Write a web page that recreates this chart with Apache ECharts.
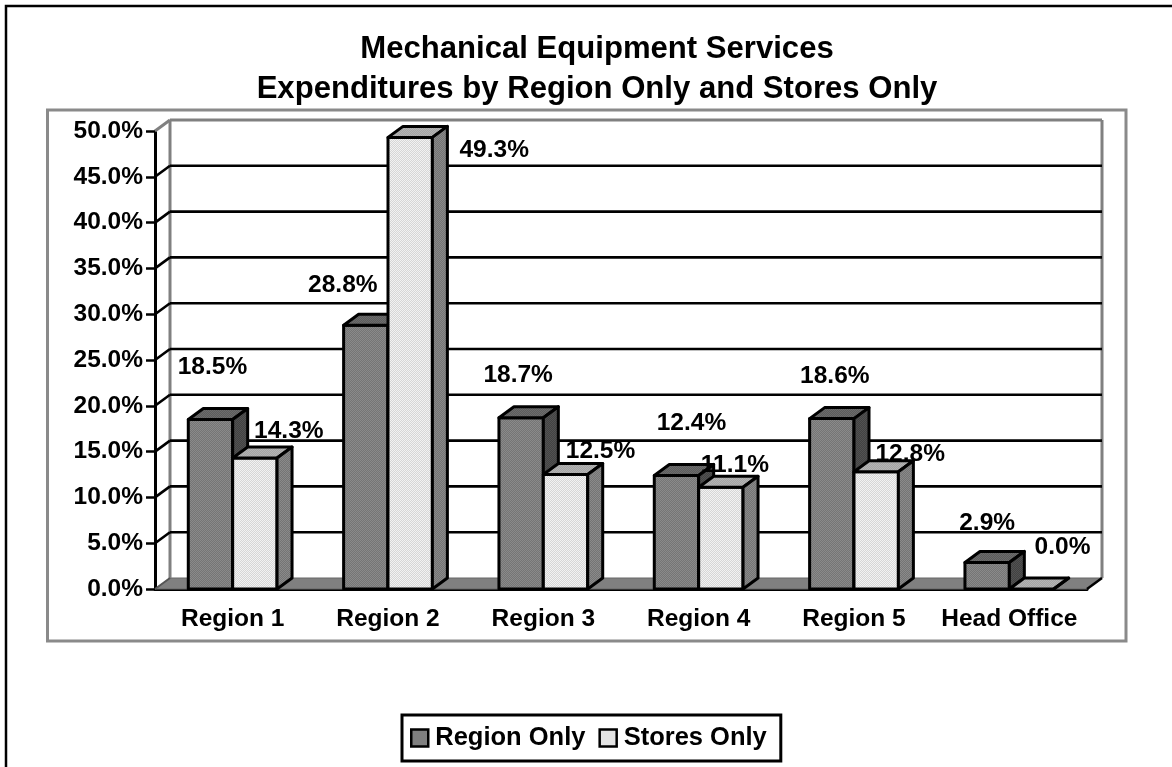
<!DOCTYPE html>
<html><head><meta charset="utf-8">
<style>html,body{margin:0;padding:0;background:#fff}#c{width:1172px;height:767px}</style>
<script src="https://cdn.jsdelivr.net/npm/echarts@6/dist/echarts.min.js"></script>
</head><body><div id="c"></div>
<script>
const categories = ['Region 1','Region 2','Region 3','Region 4','Region 5','Head Office'];
const regionOnly = [18.5,28.8,18.7,12.4,18.6,2.9];
const storesOnly = [14.3,49.3,12.5,11.1,12.8,0.0];
const yTicks = [0,5,10,15,20,25,30,35,40,45,50];
// label nudges (px) relative to the top-centre of each bar, as placed in the source chart
const regionLabelNudge = [[2,-52],[-23,-40],[-3,-42],[15,-52],[3,-42],[0,-39]];
const storesLabelNudge = [[34,-27],[84,13],[35,-23],[14,-22],[34,-18],[31,-42]];

const FONT = '"Liberation Sans", Arial, sans-serif';
const DX = 15, DY = -11;
function dither(a,b){
  const c=document.createElement('canvas');c.width=c.height=2;
  const g=c.getContext('2d');g.fillStyle=a;g.fillRect(0,0,2,2);
  g.fillStyle=b;g.fillRect(0,0,1,1);g.fillRect(1,1,1,1);
  return {image:c,repeat:'repeat'};
}
const skin = {
  region:{front:dither('#757575','#8a8a8a'),top:dither('#5c5c5c','#6c6c6c'),side:dither('#424242','#525252')},
  stores:{front:dither('#d6d6d6','#f2f2f2'),top:dither('#a4a4a4','#b4b4b4'),side:dither('#747474','#8a8a8a')}
};
const line={stroke:'#000',lineWidth:3,lineJoin:'round'};
function barSeries(name,values,idx,s){
  return {name,type:'custom',coordinateSystem:'cartesian2d',z:5+idx,
    data:values.map((v,i)=>[i,v]),encode:{x:0,y:1},itemStyle:{color:s.front},
    renderItem(p,api){
      const c=api.coord([api.value(0),api.value(1)]), base=api.coord([api.value(0),0]);
      const w=api.size([1,0])[0]/3.5;
      const x=c[0]-w+idx*w, X=x+w, y=c[1], b=base[1];
      const poly=(pts,fill)=>({type:'polygon',shape:{points:pts},style:Object.assign({fill},line)});
      return {type:'group',children:[
        poly([[x,y],[X,y],[X,b],[x,b]],s.front),
        poly([[x,y],[x+DX,y+DY],[X+DX,y+DY],[X,y]],s.top),
        poly([[X,y],[X+DX,y+DY],[X+DX,b+DY],[X,b]],s.side)
      ]};
    }};
}
function labelSeries(values,idx,nudge){
  return {type:'custom',coordinateSystem:'cartesian2d',z:10,silent:true,
    data:values.map((v,i)=>[i,v]),encode:{x:0,y:1},
    renderItem(p,api){
      const i=api.value(0),v=api.value(1),c=api.coord([i,v]);
      const w=api.size([1,0])[0]/3.5;
      return {type:'text',style:{
        text:v.toFixed(1)+'%',x:c[0]-w/2+idx*w+nudge[i][0],y:c[1]+nudge[i][1],
        align:'center',verticalAlign:'middle',fill:'#000',font:'bold 24.5px '+FONT}};
    }};
}
const wallSeries={type:'custom',coordinateSystem:'cartesian2d',z:1,silent:true,
  data:yTicks.map(v=>[0,v]),encode:{y:1},
  renderItem(p,api){
    const v=api.value(1),y=api.coord([0,v])[1],cs=p.coordSys;
    const L=cs.x,R=cs.x+cs.width,kids=[];
    const seg=(a,b,c,d,col,lw)=>({type:'line',shape:{x1:a,y1:b,x2:c,y2:d},style:{stroke:col,lineWidth:lw}});
    const T=cs.y,B=cs.y+cs.height;
    if(v===0){
      kids.push({type:'polygon',shape:{points:[[L,y],[L+DX,y+DY],[R+DX,y+DY],[R,y]]},style:{fill:'#808080',stroke:'#666',lineWidth:1}});
      kids.push(seg(L+DX,T+DY,L+DX,B+DY,'#808080',3));
      kids.push(seg(R+DX,T+DY,R+DX,B+DY,'#808080',3));
      kids.push(seg(L,y,L+DX,y+DY,'#555',2));
      kids.push(seg(R,y,R+DX,y+DY,'#000',2.5));
    } else if(v===50){
      kids.push(seg(L,y,L+DX,y+DY,'#808080',3));
      kids.push(seg(L+DX,y+DY,R+DX,y+DY,'#808080',3));
    } else {
      kids.push(seg(L,y,L+DX,y+DY,'#000',2.6));
      kids.push(seg(L+DX,y+DY,R+DX,y+DY,'#000',2.6));
    }
    return {type:'group',children:kids};
  }};
const chart=echarts.init(document.getElementById('c'),null,{renderer:'canvas'});
chart.setOption({
  animation:false,backgroundColor:'#fff',
  title:{text:'Mechanical Equipment Services\nExpenditures by Region Only and Stores Only',
    left:592,top:24,textAlign:'center',
    textStyle:{fontFamily:FONT,fontWeight:'bold',fontSize:31.1,lineHeight:40,color:'#000'}},
  grid:{left:155,right:85,top:131,bottom:178,containLabel:false},
  xAxis:{type:'category',data:categories,
    axisLine:{onZero:false,lineStyle:{color:'#000',width:3}},
    axisTick:{length:7,lineStyle:{color:'#000',width:2.5},alignWithLabel:false},
    axisLabel:{interval:0,margin:18,color:'#000',fontFamily:FONT,fontWeight:'bold',fontSize:24.5},
    splitLine:{show:false}},
  yAxis:{type:'value',min:0,max:50,interval:5,
    axisLine:{show:true,lineStyle:{color:'#000',width:3}},
    axisTick:{show:true,length:9,lineStyle:{color:'#000',width:2.5}},
    axisLabel:{margin:12,color:'#000',fontFamily:FONT,fontWeight:'bold',fontSize:24.5,
      formatter:v=>v.toFixed(1)+'%'},
    splitLine:{show:false}},
  legend:{left:402,top:715,padding:[10,14,10,8],itemWidth:17,itemHeight:17,itemGap:13,
    borderColor:'#000',borderWidth:3,
    textStyle:{fontFamily:FONT,fontWeight:'bold',fontSize:25.5,color:'#000',padding:[0,0,0,2]},
    data:[{name:'Region Only',icon:'rect',itemStyle:{color:skin.region.front,borderColor:'#000',borderWidth:2.5}},
          {name:'Stores Only',icon:'rect',itemStyle:{color:skin.stores.front,borderColor:'#000',borderWidth:2.5}}]},
  graphic:[
    {type:'polyline',silent:true,shape:{points:[[6,767],[6,6],[1172,6]]},style:{fill:null,stroke:'#000',lineWidth:2.5}},
    {type:'rect',silent:true,shape:{x:47.5,y:110,width:1078.5,height:531},style:{fill:'#fff',stroke:'#8a8a8a',lineWidth:3}}
  ],
  series:[wallSeries,
    barSeries('Region Only',regionOnly,0,skin.region),
    barSeries('Stores Only',storesOnly,1,skin.stores),
    labelSeries(regionOnly,0,regionLabelNudge),
    labelSeries(storesOnly,1,storesLabelNudge)]
});
</script></body></html>
